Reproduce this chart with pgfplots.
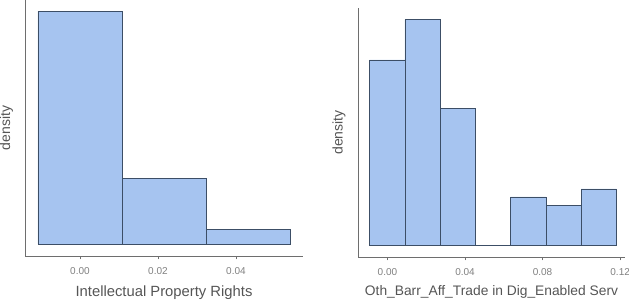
\documentclass[border=0pt]{standalone}
\usepackage{pgfplots}
\pgfplotsset{compat=1.18}
\usepackage{fontspec}
\setmainfont{Liberation Sans}
\definecolor{barfill}{HTML}{A6C4F0}
\definecolor{baredge}{HTML}{3C4E66}
\definecolor{axgray}{HTML}{6E6E6E}
\definecolor{tickgray}{HTML}{808080}
\definecolor{labgray}{HTML}{555555}
\pgfplotsset{
  histstyle/.style={
    scale only axis,
    axis x line*=bottom, axis y line*=left,
    axis line style={axgray, line width=0.8pt},
    ytick=\empty,
    xtick style={axgray, line width=0.6pt},
    tick align=outside,
    major tick length=3.5pt,
    scaled x ticks=false,
    ticklabel style={font=\fontsize{10}{12}\selectfont, text=tickgray},
    xticklabel style={yshift=-4.3pt},
    /pgf/number format/assume math mode=true,
    /pgf/number format/fixed, /pgf/number format/fixed zerofill,
    /pgf/number format/precision=2,
    ylabel={density},
    ylabel style={font=\fontsize{14}{16}\selectfont, text=labgray, anchor=center},
    xlabel style={text=labgray, anchor=center, at={(axis description cs:0.5,-0.1418)}},
    clip=false,
  },
}
\begin{document}
\begin{tikzpicture}[x=1pt,y=1pt]
\path[use as bounding box] (0,0) rectangle (629,302);
\begin{axis}[histstyle, at={(25pt,46pt)}, anchor=south west,
  width=278pt, height=256pt,
  xmin=-0.0141, xmax=0.0572, ymin=-1.65, ymax=33.56,
  xtick={0,0.02,0.04},
  xlabel={Intellectual Property Rights},
  xlabel style={font=\fontsize{14.8}{17}\selectfont},
  ylabel style={at={(axis description cs:-0.0665,0.5)}},
]
\addplot[fill=barfill, draw=baredge, line width=0.7pt, ybar interval] coordinates {
(-0.01077,32) (0.01077,9) (0.03231,2) (0.05385,2)};
\end{axis}
\begin{axis}[histstyle, at={(358pt,45pt)}, anchor=south west,
  width=267pt, height=249pt,
  xmin=-0.01517, xmax=0.1225, ymin=-1.45, ymax=29.44,
  xtick={0,0.04,0.08,0.12},
  xlabel={Oth\_Barr\_Aff\_Trade in Dig\_Enabled Serv},
  xlabel style={font=\fontsize{13.8}{16}\selectfont},
  ylabel style={at={(axis description cs:-0.0712,0.5)}},
]
\addplot[fill=barfill, draw=baredge, line width=0.7pt, ybar interval] coordinates {
(-0.00914,23) (0.00903,28) (0.02720,17) (0.04537,0) (0.06354,6) (0.08171,5) (0.09988,7) (0.11805,7)};
\end{axis}
\end{tikzpicture}
\end{document}
